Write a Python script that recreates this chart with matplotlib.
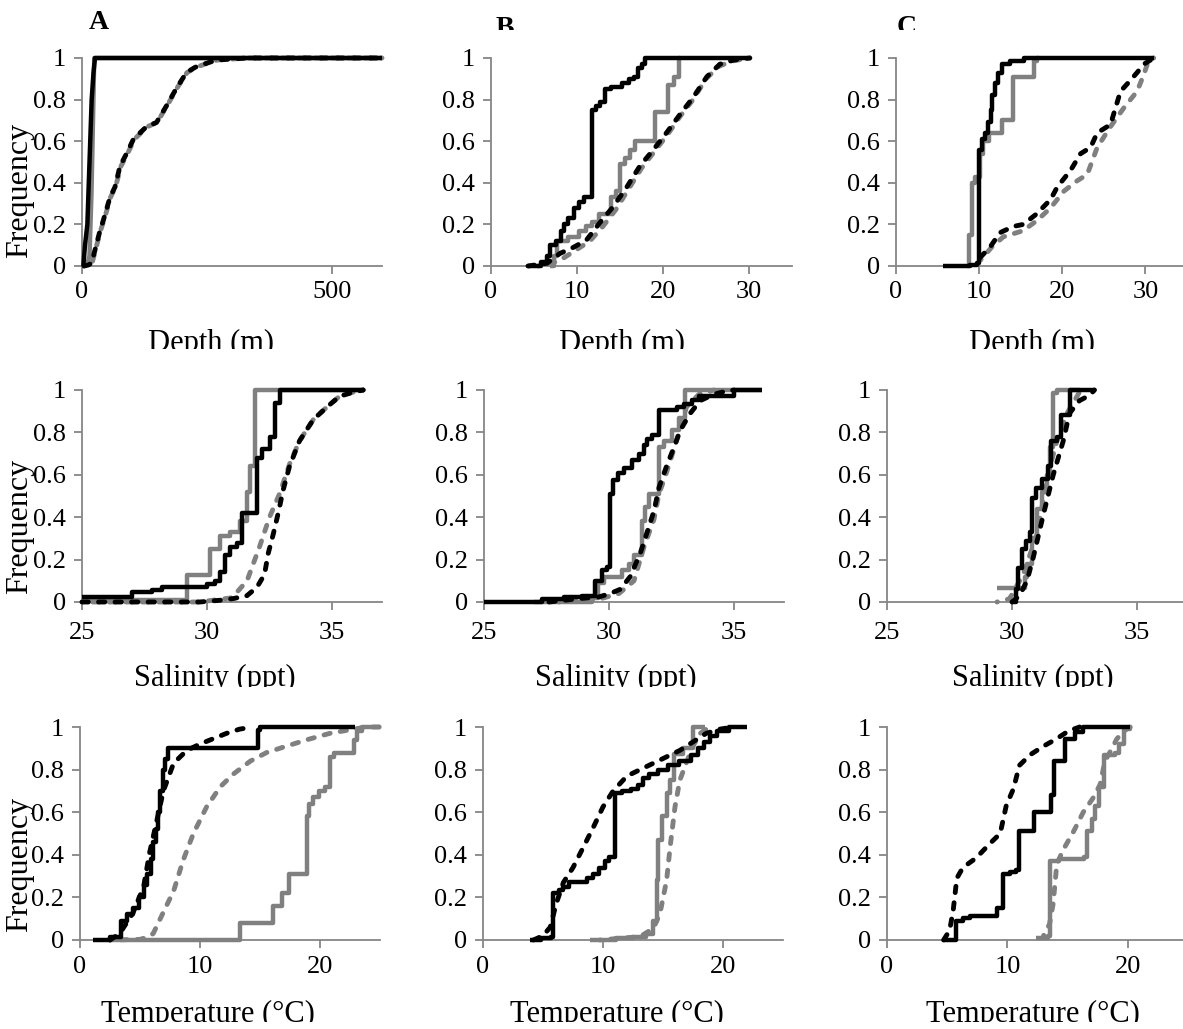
import matplotlib
matplotlib.use("Agg")
import matplotlib.pyplot as plt
from matplotlib.transforms import Bbox, TransformedBbox

# cumulative frequency curves
# BS = black solid, GS = grey solid, BD = black dashed, GD = grey dashed

# ---- row 1: depth ----
A1_BS_X = [2.7, 6, 10.7, 15, 19.3, 23, 26, 600]
A1_BS_Y = [0, 0.1, 0.2, 0.5, 0.8, 0.93, 1.0, 1.0]
A1_GS_X = [10, 15, 19, 22, 24.5, 600]
A1_GS_Y = [0, 0.05, 0.35, 0.7, 1.0, 1.0]
A1_BD_X = [4, 12.7, 19, 26, 36, 42.7, 56, 66, 76, 89, 103, 116, 129, 149, 169, 189, 209, 226, 243, 269, 330, 600]
A1_BD_Y = [0, 0.005, 0.013, 0.077, 0.17, 0.22, 0.33, 0.38, 0.48, 0.54, 0.61, 0.64, 0.67, 0.69, 0.77, 0.855, 0.93, 0.955, 0.97, 0.99, 1.0, 1.0]
A1_GD_X = [4, 13, 20, 27, 37, 44, 57, 67, 78, 91, 105, 118, 131, 150, 170, 190, 210, 228, 245, 270, 330, 600]
A1_GD_Y = [0, 0.005, 0.013, 0.077, 0.17, 0.22, 0.33, 0.38, 0.48, 0.54, 0.61, 0.64, 0.67, 0.69, 0.77, 0.855, 0.93, 0.955, 0.97, 0.99, 1.0, 1.0]

B1_BS_X = [4.3, 5.8, 6.5, 6.9, 7.6, 8.1, 8.5, 9.0, 9.7, 10.2, 10.8, 11.7, 12.2, 12.7, 13.3, 14.0, 15.2, 16.0, 16.6, 17.1, 17.6, 17.9, 30.2]
B1_BS_Y = [0, 0.02, 0.05, 0.1, 0.12, 0.17, 0.2, 0.23, 0.28, 0.31, 0.33, 0.75, 0.77, 0.79, 0.85, 0.86, 0.88, 0.9, 0.91, 0.95, 0.97, 1.0, 1.0]
B1_GS_X = [6.9, 7.3, 7.7, 9.0, 10.2, 11.0, 11.8, 12.6, 13.9, 14.5, 15.0, 15.6, 16.2, 16.8, 19.1, 20.6, 21.3, 21.9, 22.0]
B1_GS_Y = [0, 0.05, 0.12, 0.14, 0.17, 0.19, 0.21, 0.25, 0.33, 0.36, 0.49, 0.52, 0.56, 0.6, 0.74, 0.87, 0.91, 1.0, 1.0]
B1_BD_X = [4.3, 6.5, 8.0, 9.6, 11.1, 12.7, 14.2, 15.8, 17.3, 18.9, 20.4, 22.0, 23.5, 25.1, 26.6, 28.2, 30.1]
B1_BD_Y = [0, 0.013, 0.06, 0.09, 0.125, 0.21, 0.285, 0.38, 0.48, 0.56, 0.64, 0.73, 0.81, 0.91, 0.97, 0.99, 1.0]
B1_GD_X = [5.5, 7.0, 8.5, 10.0, 11.5, 13.0, 14.5, 16.0, 17.5, 19.0, 20.5, 22.0, 23.5, 25.0, 26.5, 28.0, 30.0]
B1_GD_Y = [0, 0.01, 0.04, 0.08, 0.12, 0.19, 0.27, 0.37, 0.47, 0.55, 0.63, 0.72, 0.8, 0.9, 0.96, 0.985, 1.0]

C1_BS_X = [5.6, 8.9, 9.7, 10.0, 10.3, 10.7, 11.1, 11.4, 11.6, 11.9, 12.3, 12.7, 13.7, 15.4, 31.0]
C1_BS_Y = [0, 0.005, 0.013, 0.56, 0.61, 0.64, 0.69, 0.75, 0.82, 0.88, 0.93, 0.97, 0.985, 1.0, 1.0]
C1_GS_X = [8.5, 8.8, 9.1, 9.5, 10.1, 10.5, 11.2, 12.7, 14.1, 16.6, 17.0, 17.2]
C1_GS_Y = [0, 0.15, 0.4, 0.43, 0.54, 0.6, 0.64, 0.7, 0.91, 0.985, 1.0, 1.0]
C1_BD_X = [10.1, 11.3, 12.5, 14.1, 15.3, 16.9, 18.6, 19.4, 21.0, 22.2, 23.4, 24.2, 25.8, 27.0, 27.8, 29.0, 29.8, 31.0]
C1_BD_Y = [0.04, 0.09, 0.16, 0.19, 0.2, 0.25, 0.32, 0.38, 0.46, 0.54, 0.57, 0.64, 0.68, 0.84, 0.875, 0.93, 0.97, 1.0]
C1_GD_X = [10.2, 11.5, 12.9, 15.3, 17.0, 18.6, 20.2, 21.8, 23.0, 24.2, 25.8, 27.4, 29.0, 29.8, 30.4, 31.0]
C1_GD_Y = [0.03, 0.09, 0.14, 0.17, 0.22, 0.28, 0.36, 0.41, 0.44, 0.57, 0.67, 0.76, 0.84, 0.92, 0.99, 1.0]

# ---- row 2: salinity ----
A2_BS_X = [25.0, 27.0, 27.8, 28.2, 30.0, 30.3, 30.5, 30.7, 30.9, 31.2, 31.4, 32.0, 32.2, 32.5, 32.7, 32.9, 36.3]
A2_BS_Y = [0.024, 0.047, 0.055, 0.07, 0.087, 0.1, 0.14, 0.22, 0.26, 0.28, 0.42, 0.68, 0.72, 0.78, 0.94, 1.0, 1.0]
A2_GS_X = [25.0, 29.2, 30.1, 30.5, 30.9, 31.3, 31.6, 31.7, 31.9, 36.3]
A2_GS_Y = [0.01, 0.126, 0.25, 0.31, 0.33, 0.38, 0.52, 0.64, 1.0, 1.0]
A2_BD_X = [25.0, 29.7, 30.5, 31.05, 31.6, 32.0, 32.3, 32.45, 32.65, 32.85, 33.05, 33.3, 33.7, 34.25, 34.8, 35.3, 35.85, 36.25]
A2_BD_Y = [0, 0, 0.008, 0.016, 0.03, 0.07, 0.13, 0.23, 0.32, 0.42, 0.53, 0.64, 0.76, 0.86, 0.92, 0.97, 0.99, 1.0]
A2_GD_X = [25.0, 29.7, 31.0, 31.6, 32.1, 32.5, 32.9, 33.3, 33.7, 34.25, 34.8, 35.3, 35.85, 36.25]
A2_GD_Y = [0, 0, 0.02, 0.1, 0.26, 0.4, 0.51, 0.65, 0.76, 0.86, 0.92, 0.97, 0.99, 1.0]

B2_BS_X = [25.0, 27.3, 28.2, 28.9, 29.45, 29.7, 29.9, 30.05, 30.15, 30.35, 30.6, 30.9, 31.2, 31.4, 31.5, 31.7, 32.0, 32.7, 33.0, 33.3, 33.6, 35.0, 36.1]
B2_BS_Y = [0, 0.016, 0.024, 0.03, 0.1, 0.15, 0.165, 0.51, 0.575, 0.61, 0.63, 0.67, 0.7, 0.74, 0.77, 0.79, 0.905, 0.92, 0.935, 0.955, 0.97, 1.0, 1.0]
B2_GS_X = [27.0, 29.3, 29.55, 29.8, 30.5, 30.8, 31.0, 31.3, 31.45, 31.6, 32.0, 32.2, 32.5, 32.8, 33.05, 36.1]
B2_GS_Y = [0, 0.02, 0.09, 0.12, 0.15, 0.18, 0.22, 0.38, 0.45, 0.51, 0.73, 0.76, 0.81, 0.87, 1.0, 1.0]
B2_BD_X = [27.6, 28.8, 29.6, 30.05, 30.45, 30.85, 31.25, 31.5, 31.8, 32.0, 32.3, 32.6, 32.85, 33.25, 33.65, 34.2, 34.7, 35.0]
B2_BD_Y = [0, 0.016, 0.024, 0.04, 0.06, 0.12, 0.23, 0.32, 0.43, 0.54, 0.64, 0.73, 0.81, 0.89, 0.95, 0.98, 0.995, 1.0]
B2_GD_X = [28.0, 29.5, 30.4, 31.0, 31.4, 31.8, 32.0, 32.3, 32.7, 33.1, 33.6, 34.2]
B2_GD_Y = [0, 0.01, 0.04, 0.1, 0.26, 0.39, 0.51, 0.61, 0.76, 0.92, 0.98, 1.0]

C2_BS_X = [30.0, 30.15, 30.25, 30.4, 30.55, 30.7, 30.8, 30.95, 31.2, 31.45, 31.55, 31.8, 31.95, 32.3, 33.3]
C2_BS_Y = [0, 0.06, 0.16, 0.25, 0.29, 0.33, 0.49, 0.54, 0.58, 0.64, 0.76, 0.78, 0.88, 1.0, 1.0]
C2_GS_X = [29.4, 30.5, 30.6, 30.8, 31.0, 31.2, 31.4, 31.5, 31.65, 31.8, 32.7]
C2_GS_Y = [0.065, 0.12, 0.18, 0.3, 0.44, 0.52, 0.6, 0.73, 0.985, 1.0, 1.0]
C2_BD_X = [30.0, 30.3, 30.6, 30.85, 31.25, 31.65, 32.05, 32.3, 32.7, 33.1, 33.3]
C2_BD_Y = [0, 0.03, 0.1, 0.21, 0.41, 0.6, 0.76, 0.89, 0.95, 0.975, 1.0]
C2_GD_X = [29.4, 29.9, 30.45, 31.0, 31.25, 31.5, 31.8, 32.2, 32.6, 32.7]
C2_GD_Y = [0, 0.015, 0.13, 0.32, 0.48, 0.63, 0.76, 0.89, 0.97, 0.99]

# ---- row 3: temperature ----
A3_BS_X = [1.1, 2.5, 3.4, 3.9, 4.4, 4.9, 5.3, 5.6, 5.9, 6.1, 6.3, 6.5, 6.7, 6.9, 7.1, 7.3, 14.8, 15.0, 22.9]
A3_BS_Y = [0, 0.016, 0.09, 0.12, 0.15, 0.2, 0.26, 0.31, 0.38, 0.46, 0.52, 0.6, 0.7, 0.8, 0.85, 0.9, 0.985, 1.0, 1.0]
A3_GS_X = [2.5, 13.3, 16.1, 16.8, 17.4, 18.9, 19.1, 19.4, 19.9, 20.4, 20.8, 21.2, 22.8, 23.1, 23.5, 25.0]
A3_GS_Y = [0, 0.08, 0.16, 0.22, 0.31, 0.58, 0.64, 0.67, 0.7, 0.72, 0.86, 0.88, 0.94, 0.98, 1.0, 1.0]
A3_BD_X = [2.5, 3.3, 4.4, 5.3, 5.8, 6.4, 6.95, 7.8, 8.9, 10.0, 11.1, 12.2, 13.3, 14.4]
A3_BD_Y = [0, 0.03, 0.125, 0.25, 0.41, 0.56, 0.7, 0.83, 0.89, 0.92, 0.945, 0.97, 0.99, 1.0]
A3_GD_X = [2.5, 5.0, 5.55, 6.1, 6.9, 7.8, 8.6, 9.45, 10.55, 11.7, 12.8, 14.2, 15.55, 17.2, 18.9, 20.8, 22.8, 23.9, 25.0]
A3_GD_Y = [0, 0.003, 0.012, 0.03, 0.125, 0.23, 0.375, 0.5, 0.625, 0.72, 0.78, 0.84, 0.88, 0.91, 0.94, 0.97, 0.99, 1.0, 1.0]

B3_BS_X = [3.9, 4.8, 5.7, 5.85, 6.3, 6.7, 7.2, 8.7, 9.2, 9.7, 10.2, 10.5, 11.0, 11.6, 12.3, 12.9, 13.3, 13.8, 14.6, 15.4, 16.3, 17.3, 17.9, 18.4, 18.9, 19.5, 20.5, 22.0]
B3_BS_Y = [0, 0.008, 0.016, 0.22, 0.235, 0.25, 0.27, 0.29, 0.31, 0.34, 0.37, 0.39, 0.69, 0.7, 0.71, 0.73, 0.76, 0.78, 0.8, 0.82, 0.84, 0.87, 0.9, 0.93, 0.96, 0.98, 1.0, 1.0]
B3_GS_X = [8.9, 11.1, 12.5, 13.6, 14.2, 14.5, 14.6, 14.9, 15.3, 15.6, 15.9, 16.7, 17.5, 18.5]
B3_GS_Y = [0, 0.008, 0.016, 0.03, 0.09, 0.28, 0.47, 0.58, 0.69, 0.75, 0.875, 0.9, 1.0, 1.0]
B3_BD_X = [4.2, 5.0, 5.6, 6.1, 6.7, 7.5, 8.4, 9.2, 10.0, 10.85, 12.0, 13.1, 14.2, 15.3, 16.4, 17.5, 18.6, 19.75, 20.9]
B3_BD_Y = [0, 0.02, 0.06, 0.17, 0.27, 0.34, 0.44, 0.53, 0.625, 0.70, 0.77, 0.8, 0.83, 0.86, 0.89, 0.93, 0.97, 0.99, 1.0]
B3_GD_X = [9.75, 13.1, 14.2, 14.75, 15.3, 15.6, 16.0, 16.4, 17.0, 17.5, 18.1, 18.6, 19.2]
B3_GD_Y = [0, 0.016, 0.055, 0.125, 0.28, 0.44, 0.625, 0.75, 0.84, 0.91, 0.97, 0.99, 1.0]

C3_BS_X = [4.7, 5.7, 6.3, 6.9, 9.1, 9.6, 10.2, 10.7, 11.0, 12.2, 13.6, 13.9, 14.8, 15.6, 16.3, 20.2]
C3_BS_Y = [0, 0.09, 0.105, 0.115, 0.15, 0.31, 0.32, 0.33, 0.51, 0.6, 0.68, 0.84, 0.945, 0.975, 1.0, 1.0]
C3_GS_X = [12.4, 13.4, 13.5, 14.3, 16.4, 16.6, 17.0, 17.3, 17.6, 18.0, 18.9, 19.3, 19.7, 20.2]
C3_GS_Y = [0.01, 0.02, 0.37, 0.38, 0.39, 0.51, 0.57, 0.63, 0.72, 0.87, 0.88, 0.92, 0.99, 1.0]
C3_BD_X = [4.7, 5.2, 5.5, 5.8, 6.3, 7.4, 8.5, 9.4, 9.9, 10.5, 11.0, 11.9, 13.0, 14.1, 14.9, 15.5, 16.0]
C3_BD_Y = [0, 0.045, 0.14, 0.29, 0.34, 0.385, 0.45, 0.5, 0.63, 0.71, 0.82, 0.87, 0.91, 0.945, 0.975, 0.99, 1.0]
C3_GD_X = [13.0, 13.5, 13.8, 14.1, 14.6, 15.5, 16.3, 17.1, 17.7, 18.1, 18.5, 19.1, 19.6, 19.9, 20.2]
C3_GD_Y = [0.02, 0.075, 0.17, 0.355, 0.42, 0.51, 0.6, 0.665, 0.73, 0.84, 0.88, 0.945, 0.975, 0.99, 1.0]

XLABELS = ["Depth (m)", "Salinity (ppt)", "Temperature (\u00b0C)"]
XLIMS = [[(0, 600), (0, 35), (0, 35)], [(25, 37)] * 3, [(0, 25)] * 3]
XTICKS = [[[0, 500], [0, 10, 20, 30], [0, 10, 20, 30]],
          [[25, 30, 35]] * 3,
          [[0, 10, 20]] * 3]
PANEL_LETTERS = ["A", "B", "C"]

SERIES = {
    (0, 0): [(A1_GS_X, A1_GS_Y), (A1_BS_X, A1_BS_Y), (A1_GD_X, A1_GD_Y), (A1_BD_X, A1_BD_Y)],
    (0, 1): [(B1_GS_X, B1_GS_Y), (B1_BS_X, B1_BS_Y), (B1_GD_X, B1_GD_Y), (B1_BD_X, B1_BD_Y)],
    (0, 2): [(C1_GS_X, C1_GS_Y), (C1_BS_X, C1_BS_Y), (C1_GD_X, C1_GD_Y), (C1_BD_X, C1_BD_Y)],
    (1, 0): [(A2_GS_X, A2_GS_Y), (A2_BS_X, A2_BS_Y), (A2_GD_X, A2_GD_Y), (A2_BD_X, A2_BD_Y)],
    (1, 1): [(B2_GS_X, B2_GS_Y), (B2_BS_X, B2_BS_Y), (B2_GD_X, B2_GD_Y), (B2_BD_X, B2_BD_Y)],
    (1, 2): [(C2_GS_X, C2_GS_Y), (C2_BS_X, C2_BS_Y), (C2_GD_X, C2_GD_Y), (C2_BD_X, C2_BD_Y)],
    (2, 0): [(A3_GS_X, A3_GS_Y), (A3_BS_X, A3_BS_Y), (A3_GD_X, A3_GD_Y), (A3_BD_X, A3_BD_Y)],
    (2, 1): [(B3_GS_X, B3_GS_Y), (B3_BS_X, B3_BS_Y), (B3_GD_X, B3_GD_Y), (B3_BD_X, B3_BD_Y)],
    (2, 2): [(C3_GS_X, C3_GS_Y), (C3_BS_X, C3_BS_Y), (C3_GD_X, C3_GD_Y), (C3_BD_X, C3_BD_Y)],
}

W, H = 1183, 1029
AX_X = [[(82, 382), (491, 792), (896, 1187)],
        [(82, 382), (484, 784), (887, 1187)],
        [(80, 380), (483, 783), (887, 1188)]]
AX_Y = [(58, 266), (390, 602), (727, 940)]
XPAD = [6, 9.5, 6.8]
XLAB_CX = [[211, 622, 1032], [215, 616, 1033], [208, 617, 1033]]
XLAB_BASE = [351, 686, 1022]
XLAB_CLIP = [349, 687, 1022]
FREQ_CY = [190, 526, 864]

GREY = "#808080"
AXC = "#868686"
LW = 3.2
DASH = (1.3, 2.1)

plt.rcParams["font.family"] = ["Liberation Serif", "DejaVu Serif"]
fig = plt.figure(figsize=(W / 100, H / 100), dpi=100)


def clip_below(ypx):
    return TransformedBbox(Bbox.from_extents(0, (H - ypx) / H, 1, 1), fig.transFigure)


styles = [
    dict(color=GREY, lw=LW, solid_capstyle="butt", zorder=2),
    dict(color="black", lw=LW, solid_capstyle="butt", zorder=3),
    dict(color=GREY, lw=LW + 0.3, linestyle=(1.2, DASH), dash_capstyle="round", zorder=2.5),
    dict(color="black", lw=LW + 0.3, linestyle=(0, DASH), dash_capstyle="round", zorder=3.5),
]

for r in range(3):
    top, bot = AX_Y[r]
    for c in range(3):
        x0, x1 = AX_X[r][c]
        ax = fig.add_axes([x0 / W, (H - bot) / H, (x1 - x0) / W, (bot - top) / H])
        for k, (xs, ys) in enumerate(SERIES[(r, c)]):
            st = dict(styles[k])
            if k < 2 and not (r == 0 and c == 0):
                st["drawstyle"] = "steps-post"
            ax.plot(xs, ys, clip_on=False, **st)
        ax.set_xlim(*XLIMS[r][c])
        ax.set_ylim(0, 1)
        ax.set_xticks(XTICKS[r][c])
        ax.set_yticks([0, 0.2, 0.4, 0.6, 0.8, 1.0])
        ax.set_yticklabels(["0", "0.2", "0.4", "0.6", "0.8", "1"])
        for s in ["top", "right"]:
            ax.spines[s].set_visible(False)
        for s in ["left", "bottom"]:
            ax.spines[s].set_color(AXC)
            ax.spines[s].set_linewidth(1.3)
            ax.spines[s].set_zorder(1)
        ax.tick_params(direction="out", length=5.5, width=1.3, color=AXC,
                       labelsize=19, labelcolor="black")
        ax.tick_params(axis="x", pad=XPAD[r] - 0.5)
        ax.tick_params(axis="y", pad=6)
        ax.patch.set_alpha(0)

        t = fig.text(XLAB_CX[r][c] / W, (H - XLAB_BASE[r]) / H, XLABELS[r],
                     ha="center", va="baseline", fontsize=22)
        t.set_clip_box(clip_below(XLAB_CLIP[r]))
        t.set_clip_on(True)

    fig.text(20 / W, (H - FREQ_CY[r]) / H, "Frequency", rotation=90,
             ha="center", va="center", fontsize=23)

# panel letters (B and C are cut off at the top strip in the original)
for cx, base, letter in zip([99, 505, 907], [29, 35, 34], PANEL_LETTERS):
    t = fig.text(cx / W, (H - base) / H, letter, ha="center", va="baseline",
                 fontsize=20, fontweight="bold")
    t.set_clip_box(clip_below(30))
    t.set_clip_on(True)

fig.savefig("out.png", dpi=100)
